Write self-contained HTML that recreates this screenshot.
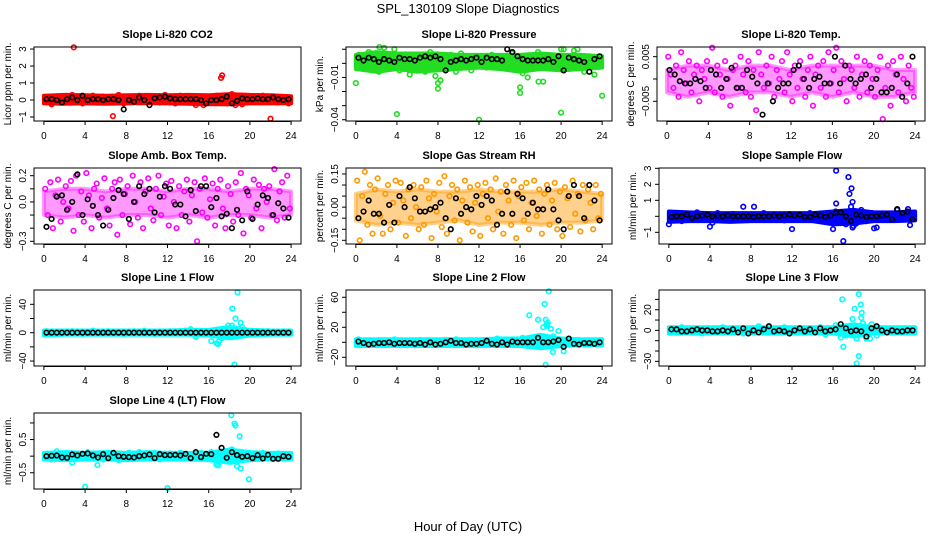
<!DOCTYPE html>
<html><head><meta charset="utf-8"><style>
html,body{margin:0;padding:0;background:#fff}
svg{display:block;font-family:"Liberation Sans",Helvetica,sans-serif}
</style></head><body>
<svg id="chart" width="936" height="540" viewBox="0 0 936 540" xmlns="http://www.w3.org/2000/svg">
<text x="468" y="13" text-anchor="middle" font-size="13">SPL_130109  Slope Diagnostics</text>
<text x="468" y="531" text-anchor="middle" font-size="13">Hour of Day (UTC)</text>
</svg>
<script>
// ---------- data (hours on a regular time grid) ----------
const xTicks = [0,4,8,12,16,20,24];
const bandHours = [0,2,4,6,8,10,12,14,16,18,20,22,24];

const co2BandLo = [-0.2,-0.22,-0.2,-0.22,-0.2,-0.18,-0.2,-0.22,-0.25,-0.25,-0.2,-0.2,-0.2];
const co2BandHi = [0.25,0.3,0.28,0.25,0.28,0.3,0.28,0.3,0.28,0.35,0.3,0.28,0.22];
const co2Pts = [0.1,-0.25,0.2,0.0,-0.1,0.3,0.15,-0.2,0.05,0.25,-0.15,0.2,0.1,-0.05,0.3,-0.2,0.15,0.0,0.25,-0.1,0.2,0.05,-0.15,0.3,0.1,-0.2,0.25,0.0,0.15,-0.3,0.2,0.1,-0.1,0.25,0.05,-0.2,0.35,0.0,-0.25,0.2,0.15,-0.1,0.25,0.0,0.2,-0.15,0.1,-0.2];
const co2OutX = [2.9,6.7,17.2,17.3,22.0,15.5,18.6];
const co2OutY = [3.1,-0.95,1.3,1.45,-1.1,-0.3,-0.3];
const co2Black = [0.05,0.05,0.0,-0.15,0.05,0.15,0.0,0.25,0.0,0.05,0.05,0.0,0.05,0.05,0.0,-0.55,0.0,-0.1,0.15,0.0,-0.3,0.1,0.15,0.2,0.1,0.05,0.05,0.05,0.05,0.05,0.0,-0.2,0.0,0.0,0.05,0.2,-0.2,-0.05,0.1,0.05,0.05,0.1,0.05,0.05,0.15,0.05,0.0,0.05];

const presBandLo = [-0.004,-0.006,-0.004,-0.006,-0.005,-0.004,-0.003,-0.004,-0.006,-0.004,-0.005,-0.004,-0.003];
const presBandHi = [0.006,0.008,0.007,0.007,0.007,0.006,0.006,0.006,0.006,0.007,0.006,0.006,0.005];
const presPts = [0.006,-0.004,0.008,0.001,-0.006,0.011,0.002,0.010,-0.005,0.004,-0.008,0.006,0.000,-0.006,0.008,-0.009,-0.012,0.003,0.006,-0.006,0.007,0.002,-0.005,0.004,0.000,-0.003,0.006,0.005,-0.002,0.004,0.007,0.000,-0.007,-0.010,0.003,0.008,-0.013,0.002,0.005,0.001,0.010,-0.004,0.009,0.003,-0.006,0.005,-0.008,0.004];
const presOutX = [0.0,4.0,12.0,20.0,24.0,8.0,8.0,16.0,16.0,17.8,2.3,20.0,21.6];
const presOutY = [-0.014,-0.036,-0.040,-0.035,-0.023,-0.018,-0.014,-0.021,-0.017,-0.013,0.0115,0.010,0.010];
const presBlack = [0.004,0.002,0.004,0.003,0.001,0.003,0.002,0.001,0.004,0.003,0.003,0.002,0.004,0.005,0.004,0.005,0.003,-0.005,0.001,0.002,0.003,0.002,0.003,0.004,0.001,0.004,0.003,0.003,0.002,0.010,0.008,0.005,0.003,0.002,0.002,0.002,0.002,0.003,0.001,0.005,-0.005,0.004,0.003,0.002,0.001,-0.006,0.003,0.005];

const tempBandLo = [-0.003,-0.004,-0.003,-0.004,-0.003,-0.003,-0.004,-0.003,-0.004,-0.003,-0.004,-0.004,-0.003];
const tempBandHi = [0.002,0.003,0.003,0.002,0.003,0.003,0.002,0.003,0.003,0.003,0.003,0.002,0.002];
const tempPts = [0.005,0.001,-0.002,0.003,-0.004,0.006,0.002,-0.001,0.004,-0.003,0.001,0.003,-0.005,0.002,0.000,0.004,-0.002,0.007,-0.003,0.003,0.001,-0.004,0.004,0.000,-0.006,0.002,0.003,-0.002,0.005,0.001,-0.003,0.004,-0.004,0.002,-0.007,0.006,0.001,-0.002,0.003,-0.001,0.005,-0.004,0.002,0.000,0.004,-0.003,0.006,0.001,-0.005,0.003,-0.002,0.004,0.000,-0.004,0.002,0.005,-0.006,0.001,0.003,-0.002,0.004,-0.004,0.006,-0.001,0.002,0.007,-0.003,0.004,0.000,-0.005,0.003,0.002,-0.002,0.005,-0.004,0.001,0.004,-0.003,0.003,0.000,-0.004,0.002,0.005,-0.009,-0.002,0.003,-0.006,0.004,0.001,-0.003,0.005,0.000,-0.005,0.003,-0.002,-0.004];
const tempBlack = [0.002,0.001,-0.0005,-0.001,-0.001,0.0,-0.0005,-0.002,0.002,0.001,-0.002,0.0,0.0025,-0.002,-0.002,0.002,0.0005,-0.001,-0.008,-0.001,-0.005,-0.002,-0.001,-0.001,0.002,0.003,0.0,-0.002,0.0,0.0005,-0.001,-0.001,0.005,-0.001,0.003,0.0,-0.001,0.0,0.001,-0.002,0.0,-0.003,-0.003,-0.002,0.001,-0.004,-0.001,0.005];

const ambBandLo = [-0.1,-0.12,-0.1,-0.12,-0.1,-0.1,-0.12,-0.1,-0.12,-0.1,-0.1,-0.12,-0.1];
const ambBandHi = [0.08,0.1,0.1,0.08,0.1,0.1,0.08,0.1,0.1,0.08,0.1,0.1,0.08];
const ambPts = [0.1,-0.1,0.15,-0.2,0.05,0.17,-0.15,0.0,0.12,-0.05,0.16,-0.22,0.2,-0.1,0.08,-0.15,0.22,0.05,-0.2,0.1,0.14,-0.12,0.03,0.18,-0.05,-0.18,0.1,0.15,-0.25,0.17,-0.1,0.06,0.12,-0.17,0.2,0.0,-0.12,0.15,-0.2,0.08,0.18,-0.05,-0.14,0.1,0.2,-0.1,0.04,0.14,-0.18,0.16,0.0,-0.2,0.12,-0.1,0.08,0.17,-0.15,0.05,0.15,-0.3,0.1,-0.08,0.18,-0.12,0.02,0.14,-0.18,0.1,0.17,-0.05,-0.2,0.12,0.06,-0.15,0.15,-0.1,0.22,-0.24,0.1,0.05,-0.12,0.17,-0.05,0.13,-0.2,0.1,0.0,0.12,-0.1,0.25,-0.14,0.08,0.15,-0.12,0.2,-0.05];
const ambBlack = [-0.19,-0.13,0.04,0.05,-0.06,0.0,0.21,-0.1,0.02,-0.03,-0.1,-0.18,-0.06,0.03,0.09,0.06,-0.13,0.0,0.12,0.06,0.1,-0.08,0.04,0.12,0.1,-0.02,-0.02,-0.11,0.09,-0.07,0.12,0.12,-0.04,0.03,-0.11,-0.09,-0.2,-0.06,-0.14,0.08,-0.13,-0.02,0.05,0.03,-0.1,-0.01,-0.05,-0.12];

const rhBandLo = [-0.06,-0.08,-0.07,-0.08,-0.07,-0.06,-0.08,-0.07,-0.07,-0.08,-0.07,-0.07,-0.06];
const rhBandHi = [0.06,0.08,0.07,0.08,0.07,0.07,0.08,0.07,0.07,0.07,0.08,0.07,0.06];
const rhPts = [0.12,-0.15,0.05,0.16,-0.08,0.1,-0.12,0.08,0.13,-0.04,-0.12,0.06,0.1,-0.1,0.02,0.12,-0.07,0.11,0.03,-0.13,0.08,-0.05,0.1,0.0,-0.1,0.09,-0.08,0.12,0.04,-0.14,0.06,-0.02,0.11,-0.09,0.14,-0.12,0.05,0.1,-0.06,0.08,-0.15,0.03,0.12,-0.07,0.09,-0.11,0.02,0.1,-0.13,0.06,0.11,-0.05,0.08,-0.1,0.13,-0.02,0.07,-0.12,0.1,0.03,-0.08,0.12,-0.14,0.05,0.09,-0.06,0.11,-0.1,0.02,0.12,-0.04,0.08,-0.12,0.06,0.1,-0.08,0.03,0.11,-0.1,0.07,-0.13,0.09,0.04,-0.09,0.12,-0.03,0.06,-0.11,0.1,-0.06,0.08,0.02,-0.1,0.1,-0.05,0.06];
const rhBlack = [-0.05,-0.02,0.03,-0.03,-0.03,-0.07,0.01,-0.07,0.05,0.0,0.09,0.04,-0.02,-0.02,-0.01,0.0,0.02,-0.05,-0.1,0.04,-0.03,0.0,-0.01,0.05,0.01,0.05,0.03,-0.08,-0.03,0.07,-0.03,0.06,0.04,-0.03,0.02,-0.01,-0.01,0.08,-0.01,-0.06,-0.1,0.05,0.1,0.05,-0.05,0.1,0.03,-0.06];

const sfBandLo = [-0.35,-0.3,-0.3,-0.35,-0.3,-0.3,-0.3,-0.3,-0.5,-0.45,-0.3,-0.3,-0.25];
const sfBandHi = [0.3,0.25,0.2,0.2,0.2,0.2,0.2,0.2,0.3,0.4,0.25,0.25,0.3];
const sfPts = [-0.1,0.2,-0.3,0.1,0.0,0.25,-0.2,0.1,-0.4,0.2,0.0,-0.2,0.15,-0.1,0.6,0.1,-0.2,0.0,0.2,-0.15,0.1,0.0,-0.25,0.15,0.0,-0.2,0.1,0.2,-0.1,0.0,0.15,-0.25,0.3,0.1,-0.5,0.6,-0.45,0.4,-0.3,0.2,-0.7,0.1,-0.2,0.15,0.4,-0.1,0.2,0.0];
const sfOutX = [0.0,4.0,12.0,16.0,16.3,16.3,17.0,17.5,17.6,17.8,17.9,17.9,18.0,20.0,8.3,23.5,23.3];
const sfOutY = [-0.5,-0.65,-0.8,-0.8,2.85,0.8,-1.55,2.45,1.4,1.75,0.9,-0.7,-0.6,-0.75,0.6,-0.55,0.45];
const sfBlack = [-0.05,0.0,0.0,0.1,-0.1,0.0,0.05,0.1,0.0,0.05,0.0,0.05,0.0,0.0,0.0,0.0,-0.05,0.0,0.0,0.0,0.05,0.0,0.05,0.1,0.05,0.1,-0.05,-0.05,0.1,0.05,-0.05,0.05,0.2,0.25,0.0,-0.3,0.1,0.05,-0.05,0.0,0.0,0.05,0.1,-0.2,0.45,0.2,0.3,-0.2];

const l1BandLo = [-4,-3,-3,-3,-3,-3,-3,-3,-4,-8,-4,-3,-3];
const l1BandHi = [3,3,3,3,3,3,3,4,4,8,4,3,3];
const l1Pts = [2,-2,1,0,-1,2,0,-2,1,3,-1,0,2,-1,1,-2,0,2,-1,3,0,-2,1,-1,2,0,-1,3,5,-6,1,-2,-12,-15,-8,5,10,-5,8,2,-1,1,0,2,-1,0,1,-1];
const l1OutX = [18.3,18.5,18.6,18.8,19.1,17.9,16.9,17.0];
const l1OutY = [34,-45,20,57,14,10,-16,-12];
const l1Black = [0,0,0,0,0,0,0,0,0,0,0,0,0,0,0,0,0,0,0,0,0,0,0,0,0,0,0,0,0,0,0,0,0,0,0,0,0,0,0,0,0,0,0,0,0,0,0,0];

const l2BandLo = [-5,-5,-5,-5,-5,-5,-5,-5,-5,-8,-5,-4,-4];
const l2BandHi = [4,4,4,4,4,4,4,5,5,10,5,4,4];
const l2Pts = [4,-3,2,-1,3,-2,1,4,-3,2,0,-4,3,-1,2,-3,1,3,-2,4,0,-3,2,-4,1,3,-2,5,-1,2,-3,4,6,-5,3,30,20,-5,8,15,-12,3,-2,2,-1,0,1,-1];
const l2OutX = [16.9,18.4,18.5,18.7,18.8,18.6,18.5,19.2,19.0,18.6];
const l2OutY = [36,51,30,26,68,22,-30,-13,18,24];
const l2Black = [1,-1,-3,-2,-1,-1,0,-2,-1,-1,-1,-2,-1,-3,0,-3,-2,0,2,-1,-1,-3,-2,-2,-1,2,-2,-3,0,-3,1,0,0,0,0,6,0,0,1,3,-6,5,-2,-3,-1,-1,-2,0];

const l3BandLo = [-3,-3,-3,-3,-3,-3,-3,-3,-3,-6,-3,-3,-3];
const l3BandHi = [3,3,3,3,3,3,3,3,3,6,3,3,3];
const l3Pts = [2,-1,3,-2,1,0,-3,2,-1,1,3,-2,0,2,-3,1,-1,4,-2,0,2,-1,3,-3,1,-2,2,0,-1,3,-4,1,5,-7,-5,-3,2,12,-8,6,-5,2,-1,1,0,-1,2,0];
const l3OutX = [16.9,17.0,18.1,18.3,18.5,18.5,18.7,18.8,18.9,18.3,17.9,19.6];
const l3OutY = [30,-16,21,-32,35,-25,25,17,7,-8,11,-8];
const l3Black = [1,1,-1,-1,0,1,0,0,-1,-1,0,-1,1,-2,2,-3,0,-2,1,4,-1,0,-1,-3,0,2,-1,1,-2,2,-1,0,1,6,2,-1,0,-1,-6,2,4,0,-2,0,-1,-1,0,0];

const l4BandLo = [-0.1,-0.12,-0.1,-0.1,-0.12,-0.1,-0.1,-0.1,-0.12,-0.2,-0.12,-0.1,-0.1];
const l4BandHi = [0.1,0.12,0.1,0.12,0.1,0.12,0.1,0.1,0.1,0.2,0.12,0.1,0.1];
const l4Pts = [0.05,-0.1,0.15,-0.05,0.1,-0.2,0.05,0.0,0.12,-0.05,0.08,-0.1,0.1,0.0,-0.12,0.05,0.1,-0.08,0.12,0.0,-0.06,0.1,-0.1,0.04,0.08,-0.05,0.1,0.0,-0.08,0.06,0.1,-0.05,0.12,-0.25,0.08,-0.15,0.2,-0.3,0.1,-0.1,0.05,-0.08,0.1,0.0,-0.05,0.08,0.0,-0.05];
const l4OutX = [4.0,12.0,18.2,18.5,18.6,19.0,19.1,19.9,5.2,16.9];
const l4OutY = [-0.92,-0.96,1.23,0.98,0.92,0.6,-0.37,-0.7,-0.27,-0.28];
const l4Black = [0.0,0.01,0.02,-0.04,-0.05,0.05,0.02,0.07,0.08,0.02,-0.04,0.06,-0.06,0.1,0.0,-0.02,-0.03,-0.04,0.0,0.02,0.05,-0.06,0.06,0.03,0.03,0.04,0.02,0.07,-0.06,0.12,-0.03,0.07,0.06,0.64,0.25,-0.05,0.12,0.03,-0.02,0.0,-0.06,0.03,-0.07,0.04,-0.08,-0.08,0.0,-0.02];

// ---------- layout ----------
const NS = "http://www.w3.org/2000/svg";
const svg = document.getElementById("chart");
const panels = [
 {key:"co2",title:"Slope Li-820 CO2",ylab:"Licor ppm per min.",x0:34,x1:301,y0:47,y1:121,ymin:-1.235,ymax:3.12,ticks:[-1,0,1,2,3],labels:["-1","0","1","2","3"],col:"#ff0000",band:1,lo:co2BandLo,hi:co2BandHi,pts:co2Pts,ox:co2OutX,oy:co2OutY,blk:co2Black},
 {key:"pressure",title:"Slope Li-820 Pressure",ylab:"kPa per min.",x0:346,x1:612,y0:47,y1:121,ymin:-0.0409,ymax:0.0116,ticks:[-0.04,-0.03,-0.02,-0.01,0,0.01],labels:["-0.04","","","-0.01","",""],col:"#22dd22",band:1,lo:presBandLo,hi:presBandHi,pts:presPts,ox:presOutX,oy:presOutY,blk:presBlack},
 {key:"li820-temp",title:"Slope Li-820 Temp.",ylab:"degrees C per min.",x0:657,x1:925,y0:47,y1:121,ymin:-0.00942,ymax:0.00717,ticks:[-0.005,0,0.005],labels:["-0.005","","0.005"],col:"#ff00ff",band:0.4,lo:tempBandLo,hi:tempBandHi,pts:tempPts,ox:[],oy:[],blk:tempBlack},
 {key:"amb-box-temp",title:"Slope Amb. Box Temp.",ylab:"degrees C per min.",x0:34,x1:301,y0:168,y1:244,ymin:-0.3206,ymax:0.2586,ticks:[-0.3,-0.2,-0.1,0,0.1,0.2],labels:["-0.3","","","0.0","","0.2"],col:"#ff00ff",band:0.4,lo:ambBandLo,hi:ambBandHi,pts:ambPts,ox:[],oy:[],blk:ambBlack},
 {key:"gas-stream-rh",title:"Slope Gas Stream RH",ylab:"percent per min.",x0:346,x1:612,y0:168,y1:244,ymin:-0.1667,ymax:0.177,ticks:[-0.15,-0.1,-0.05,0,0.05,0.1,0.15],labels:["-0.15","","","0.00","","","0.15"],col:"#ff9900",band:0.45,lo:rhBandLo,hi:rhBandHi,pts:rhPts,ox:[],oy:[],blk:rhBlack},
 {key:"sample-flow",title:"Slope Sample Flow",ylab:"ml/min per min.",x0:659,x1:925,y0:168,y1:244,ymin:-1.73,ymax:3.02,ticks:[-1,0,1,2,3],labels:["-1","","1","2","3"],col:"#0000ff",band:1,lo:sfBandLo,hi:sfBandHi,pts:sfPts,ox:sfOutX,oy:sfOutY,blk:sfBlack},
 {key:"line1-flow",title:"Slope Line 1 Flow",ylab:"ml/min per min.",x0:34,x1:301,y0:290,y1:366,ymin:-47,ymax:60.2,ticks:[-40,-20,0,20,40],labels:["-40","","0","","40"],col:"#00ffff",band:1,lo:l1BandLo,hi:l1BandHi,pts:l1Pts,ox:l1OutX,oy:l1OutY,blk:l1Black},
 {key:"line2-flow",title:"Slope Line 2 Flow",ylab:"ml/min per min.",x0:346,x1:612,y0:290,y1:366,ymin:-31.6,ymax:69.7,ticks:[-20,0,20,40,60],labels:["-20","","20","","60"],col:"#00ffff",band:1,lo:l2BandLo,hi:l2BandHi,pts:l2Pts,ox:l2OutX,oy:l2OutY,blk:l2Black},
 {key:"line3-flow",title:"Slope Line 3 Flow",ylab:"ml/min per min.",x0:659,x1:925,y0:290,y1:366,ymin:-34.5,ymax:39.1,ticks:[-30,-20,-10,0,10,20,30],labels:["-30","","","0","","20",""],col:"#00ffff",band:1,lo:l3BandLo,hi:l3BandHi,pts:l3Pts,ox:l3OutX,oy:l3OutY,blk:l3Black},
 {key:"line4-flow",title:"Slope Line 4 (LT) Flow",ylab:"ml/min per min.",x0:34,x1:301,y0:413,y1:489,ymin:-0.99,ymax:1.30,ticks:[-0.5,0,0.5,1],labels:["-0.5","","0.5",""],col:"#00ffff",band:1,lo:l4BandLo,hi:l4BandHi,pts:l4Pts,ox:l4OutX,oy:l4OutY,blk:l4Black}
];

function mk(tag, attrs, parent){
  const e = document.createElementNS(NS, tag);
  for (const k in attrs) e.setAttribute(k, attrs[k]);
  (parent||svg).appendChild(e);
  return e;
}

panels.forEach(p => {
  const g = mk("g", {});
  
  
  const pad = (p.x1 - p.x0) * 0.04 / 1.08;
  const xs = h => p.x0 + pad + (h / 24) * (p.x1 - p.x0 - 2 * pad);
  const ys = v => p.y1 - (v - p.ymin) / (p.ymax - p.ymin) * (p.y1 - p.y0);

  let d = "";
  bandHours.forEach((h, i) => { d += (i ? "L" : "M") + xs(h) + "," + ys(p.hi[i]); });
  for (let i = bandHours.length - 1; i >= 0; i--) d += "L" + xs(bandHours[i]) + "," + ys(p.lo[i]);
  const band = mk("path", {d: d + "Z", fill: p.col, "fill-opacity": p.band, stroke: p.col, "stroke-width": 4, "stroke-opacity": p.band, "stroke-linejoin": "round"}, g);
  
  

  const dot = (x, y, c, name) => {
    const c1 = mk("circle", {cx: x, cy: y, r: 2.3, fill: "none", stroke: c, "stroke-width": 1.6}, g);
    
    
  };
  const n = p.pts.length;
  p.pts.forEach((v, i) => dot(xs((i + 0.5) * 24 / n), ys(v), p.col, p.key + '-point'));
  p.ox.forEach((h, i) => dot(xs(h), ys(p.oy[i]), p.col, p.key + '-outlier'));
  const nb = p.blk.length;
  p.blk.forEach((v, i) => dot(xs((i + 1) * 24 / nb - 0.25), ys(v), "#000", p.key + '-mean-point'));

  const fr = mk("rect", {x: p.x0, y: p.y0, width: p.x1 - p.x0, height: p.y1 - p.y0, fill: "none", stroke: "#000", "stroke-width": 1}, g);
  
  

  const t = mk("text", {x: (p.x0 + p.x1) / 2, y: p.y0 - 9, "text-anchor": "middle", "font-size": 11, "font-weight": "bold"}, g);
  t.textContent = p.title;
  
  

  mk("line", {x1: xs(0), x2: xs(24), y1: p.y1 + 0.5, y2: p.y1 + 0.5, stroke: "#000"}, g);
  xTicks.forEach(h => {
    mk("line", {x1: xs(h), x2: xs(h), y1: p.y1, y2: p.y1 + 4, stroke: "#000"}, g);
    const tl = mk("text", {x: xs(h), y: p.y1 + 18, "text-anchor": "middle", "font-size": 10}, g);
    tl.textContent = h;
    
    
  });

  p.ticks.forEach((v, i) => {
    const y = ys(v);
    mk("line", {x1: p.x0 - 4, x2: p.x0, y1: y, y2: y, stroke: "#000"}, g);
    if (p.labels[i]) {
      const tl = mk("text", {x: 0, y: 0, "text-anchor": "middle", "font-size": 10, transform: `translate(${p.x0 - 8},${y}) rotate(-90)`}, g);
      tl.textContent = p.labels[i].replace("-", "\u2212");
      
      
    }
  });
  const yl = mk("text", {x: 0, y: 0, "text-anchor": "middle", "font-size": 10, transform: `translate(${p.x0 - 23},${(p.y0 + p.y1) / 2}) rotate(-90)`}, g);
  yl.textContent = p.ylab;
  
  
});
</script>
</body></html>
